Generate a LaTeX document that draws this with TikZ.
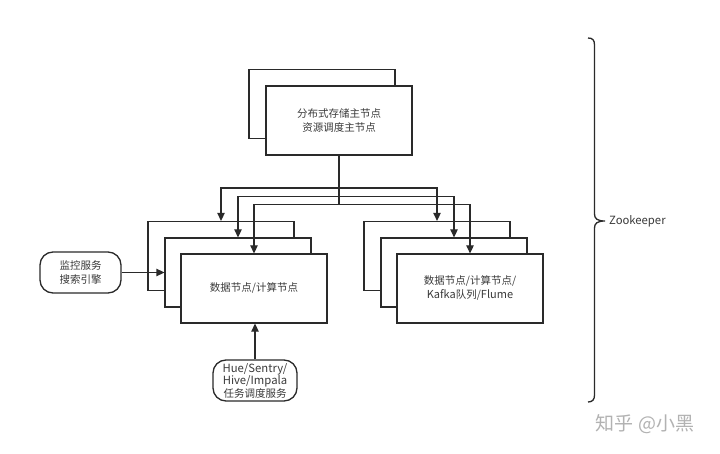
\documentclass[tikz,border=0pt]{standalone}
\usepackage{fontspec}
\setmainfont{Noto Sans CJK SC}
\usetikzlibrary{arrows.meta}
\definecolor{ink}{HTML}{2A2A2A}
\definecolor{txt}{HTML}{3A3A3A}
\begin{document}
\begin{tikzpicture}[x=1pt,y=-1pt,
  box/.style={draw=ink,fill=white,line width=1.3pt,minimum width=146pt,minimum height=69pt,
    inner sep=0pt,align=center,text=txt,font=\fontsize{10.5}{14}\selectfont},
  pill/.style={box,minimum width=81pt,minimum height=41pt,rounded corners=13pt},
  link/.style={draw=ink,line width=1.3pt,line join=miter,-{Triangle[length=8pt,width=7.5pt]}},
]
\useasboundingbox (0,0) rectangle (720,454);
\fill[white] (0,0) rectangle (720,454);

% master nodes
\node[box] (mB) at (322,104) {};
\node[box] (mF) at (339,120.5) {分布式存储主节点\\资源调度主节点};

% left data node stack
\node[box] (bL) at (221,256) {};
\node[box] (mL) at (238,272.5) {};
\node[box] (fL) at (254,288.5) {数据节点/计算节点};

% right data node stack
\node[box] (bR) at (437,256) {};
\node[box] (mR) at (454,272.5) {};
\node[box] (fR) at (470,288.5) {数据节点/计算节点/\\{\fontsize{11}{14}\selectfont Kafka}队列/{\fontsize{11}{14}\selectfont Flume}};

% side services
\node[pill] (mon) at (80.5,272.5) {监控服务\\搜索引擎};
\node[pill,minimum width=84pt,font=\fontsize{10.5}{12.5}\selectfont] (hue) at (255,380.5)
  {{\fontsize{11.3}{12.5}\selectfont Hue/Sentry/}\\{\fontsize{11.3}{12.5}\selectfont Hive/Impala}\\任务调度服务};

% connectors from master
\coordinate (y1) at (0,188);
\coordinate (y2) at (0,196.5);
\coordinate (y3) at (0,204.5);
\draw[link] (mF.south) -- (mF.south |- y1) -| (bL.north);
\draw[link] (mF.south) -- (mF.south |- y1) -| (bR.north);
\draw[link] (mF.south) -- (mF.south |- y2) -| (mL.north);
\draw[link] (mF.south) -- (mF.south |- y2) -| (mR.north);
\draw[link] (mF.south) -- (mF.south |- y3) -| (fL.north);
\draw[link] (mF.south) -- (mF.south |- y3) -| (fR.north);

% side connectors
\draw[link] (mon.east) -- (mL.west);
\draw[link] (hue.north) -- (hue.north |- fL.south);

% brace
\draw[ink,line width=1.3pt] (588,38) .. controls (592.5,38) and (594.5,40) .. (594.5,45)
  -- (594.5,214) .. controls (594.5,218.5) and (597,221) .. (605,221)
  .. controls (597,221) and (594.5,223.5) .. (594.5,228)
  -- (594.5,395) .. controls (594.5,399.5) and (592.5,402) .. (588,402);
\node[anchor=west,inner sep=0pt,text=txt,font=\fontsize{11.3}{14}\selectfont] (zk) at (609,221) {Zookeeper};

% watermark
\node[anchor=center,inner sep=0pt,text=black!30,font=\fontsize{19}{22}\selectfont] (wm) at (645,424) {知乎 @小黑};
\end{tikzpicture}
\end{document}
